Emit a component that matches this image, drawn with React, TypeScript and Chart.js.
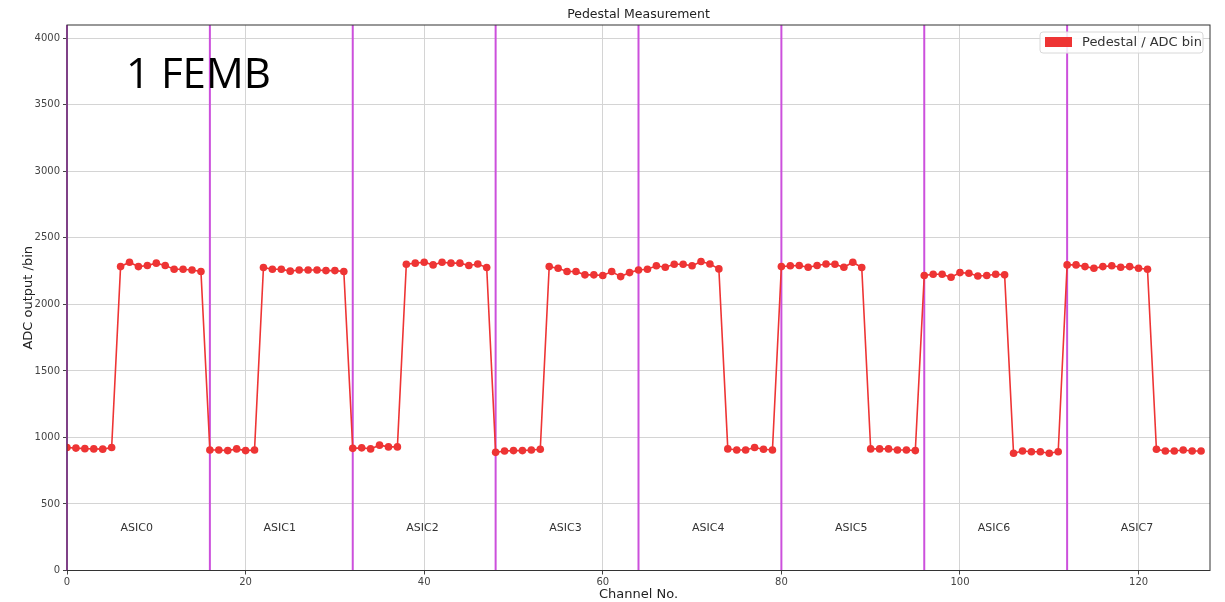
import React, { useEffect, useRef } from "react";
import { Chart, registerables } from "chart.js";
Chart.register(...registerables);

const pedestal: number[] = [
  924, 920, 916, 914, 912, 924, 2284, 2317, 2284, 2292, 2310, 2292, 2264, 2264, 2259, 2247,
  906, 906, 901, 914, 901, 906, 2277, 2264, 2264, 2250, 2259, 2259, 2259, 2254, 2254, 2247,
  918, 922, 914, 942, 929, 929, 2302, 2310, 2317, 2297, 2317, 2310, 2310, 2292, 2304, 2277,
  888, 898, 901, 901, 906, 911, 2284, 2272, 2247, 2247, 2222, 2222, 2217, 2247, 2209, 2239,
  2259, 2264, 2290, 2279, 2302, 2302, 2290, 2322, 2304, 2267, 914, 906, 906, 924, 911, 906,
  2284, 2290, 2292, 2279, 2292, 2304, 2302, 2279, 2317, 2277, 914, 914, 914, 906, 906, 901,
  2217, 2227, 2227, 2204, 2239, 2234, 2214, 2217, 2227, 2222, 881, 898, 893, 893, 881, 893,
  2297, 2297, 2284, 2272, 2284, 2290, 2279, 2284, 2272, 2264, 911, 898, 898, 906, 898, 898,
];
const asicBoundaries: number[] = [0, 16, 32, 48, 64, 80, 96, 112];
const asicLabels: string[] = ["ASIC0", "ASIC1", "ASIC2", "ASIC3", "ASIC4", "ASIC5", "ASIC6", "ASIC7"];
const asicLabelX: number[] = [6, 22, 38, 54, 70, 86, 102, 118];
const asicLabelY = 320;
const xTicks: number[] = [0, 20, 40, 60, 80, 100, 120];
const yTicks: number[] = [0, 500, 1000, 1500, 2000, 2500, 3000, 3500, 4000];
const titleText = "Pedestal Measurement";
const legendText = "Pedestal / ADC bin";
const overlayText = "1 FEMB";

const RED = "#ee3434";
const PURPLE = "#cc50dc";
const FONT = "'DejaVu Sans', sans-serif";

const overlayPlugin = {
  id: "overlay",
  beforeDatasetsDraw(chart: any) {
    const { ctx, chartArea, scales } = chart;
    const xs = scales.x;
    const ys = scales.y;
    ctx.save();
    ctx.strokeStyle = PURPLE;
    ctx.lineWidth = 2;
    asicBoundaries.forEach((b) => {
      const px = xs.getPixelForValue(b);
      ctx.beginPath();
      ctx.moveTo(px, chartArea.top);
      ctx.lineTo(px, chartArea.bottom);
      ctx.stroke();
    });
    ctx.fillStyle = "#333";
    ctx.font = `11px ${FONT}`;
    ctx.textAlign = "left";
    ctx.textBaseline = "middle";
    asicLabels.forEach((l, i) => {
      ctx.fillText(l, xs.getPixelForValue(asicLabelX[i]), ys.getPixelForValue(asicLabelY));
    });
    ctx.restore();
  },
  afterDraw(chart: any) {
    const { ctx, chartArea } = chart;
    ctx.save();
    ctx.strokeStyle = "#333";
    ctx.lineWidth = 1;
    ctx.strokeRect(chartArea.left, chartArea.top, chartArea.right - chartArea.left, chartArea.bottom - chartArea.top);
    ctx.fillStyle = "#222";
    ctx.font = `12.5px ${FONT}`;
    ctx.textAlign = "center";
    ctx.textBaseline = "middle";
    ctx.fillText(titleText, (chartArea.left + chartArea.right) / 2, 15);
    const lx = chartArea.right - 170;
    const ly = chartArea.top + 7;
    const lw = 163;
    const lh = 21;
    ctx.fillStyle = "rgba(255,255,255,0.85)";
    ctx.strokeStyle = "#d8d8d8";
    ctx.beginPath();
    const r = 3;
    ctx.moveTo(lx + r, ly);
    ctx.lineTo(lx + lw - r, ly);
    ctx.quadraticCurveTo(lx + lw, ly, lx + lw, ly + r);
    ctx.lineTo(lx + lw, ly + lh - r);
    ctx.quadraticCurveTo(lx + lw, ly + lh, lx + lw - r, ly + lh);
    ctx.lineTo(lx + r, ly + lh);
    ctx.quadraticCurveTo(lx, ly + lh, lx, ly + lh - r);
    ctx.lineTo(lx, ly + r);
    ctx.quadraticCurveTo(lx, ly, lx + r, ly);
    ctx.fill();
    ctx.stroke();
    ctx.fillStyle = RED;
    ctx.fillRect(lx + 5, ly + 5, 27, 10);
    ctx.fillStyle = "#333";
    ctx.font = `13px ${FONT}`;
    ctx.textAlign = "left";
    ctx.textBaseline = "middle";
    ctx.fillText(legendText, lx + 42, ly + 11);
    ctx.fillStyle = "#000";
    ctx.font = `42px 'Open Sans', sans-serif`;
    ctx.textBaseline = "alphabetic";
    ctx.fillText(overlayText, 126, 88);
    ctx.restore();
  },
};

export default function App() {
  const ref = useRef<HTMLCanvasElement>(null);
  useEffect(() => {
    if (!ref.current) return;
    const chart = new Chart(ref.current, {
      type: "line",
      data: {
        datasets: [
          {
            label: legendText,
            data: pedestal.map((v, i) => ({ x: i, y: v })),
            borderColor: RED,
            backgroundColor: RED,
            borderWidth: 1.6,
            pointRadius: 3.8,
            pointBorderWidth: 0,
            pointBackgroundColor: RED,
            tension: 0,
          },
        ],
      },
      options: {
        animation: false,
        responsive: false,
        maintainAspectRatio: false,
        layout: { padding: { left: 21, right: 15, top: 25, bottom: 0 } },
        plugins: { legend: { display: false }, title: { display: false }, tooltip: { enabled: false } },
        scales: {
          x: {
            type: "linear",
            min: 0,
            max: 128,
            afterBuildTicks: (s: any) => {
              s.ticks = xTicks.map((v) => ({ value: v }));
            },
            afterFit: (s: any) => {
              s.height = 31.5;
            },
            grid: { color: "#d4d4d4", lineWidth: 1, tickLength: 4, tickColor: "#444", drawTicks: true },
            border: { display: false },
            ticks: { font: { family: FONT, size: 10 }, color: "#444", padding: 2, maxRotation: 0, callback: (v: any) => String(v) },
            title: { display: true, text: "Channel No.", font: { family: FONT, size: 13 }, color: "#222", padding: { top: 4, bottom: 0 } },
          },
          y: {
            type: "linear",
            min: 0,
            max: 4100,
            afterBuildTicks: (s: any) => {
              s.ticks = yTicks.map((v) => ({ value: v }));
            },
            afterFit: (s: any) => {
              s.width = 46;
            },
            grid: { color: "#d4d4d4", lineWidth: 1, tickLength: 4, tickColor: "#444", drawTicks: true },
            border: { display: false },
            ticks: { font: { family: FONT, size: 10 }, color: "#444", padding: 3, callback: (v: any) => String(v) },
            title: { display: true, text: "ADC output /bin", font: { family: FONT, size: 13 }, color: "#222", padding: { top: 0, bottom: 4 } },
          },
        },
      },
      plugins: [overlayPlugin],
    } as any);
    return () => chart.destroy();
  }, []);
  return (
    <div style={{ position: "fixed", left: 0, top: 0, width: 1225, height: 602, background: "#fff" }}>
      <canvas ref={ref} width={1225} height={602} style={{ width: 1225, height: 602 }} />
    </div>
  );
}
